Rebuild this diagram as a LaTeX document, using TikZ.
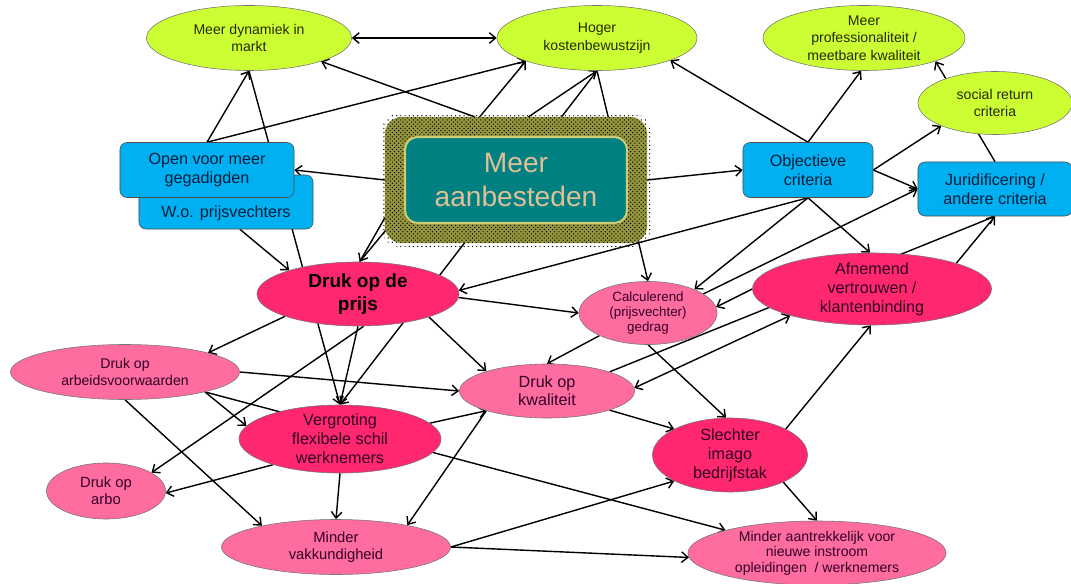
\documentclass[tikz,border=0pt]{standalone}
\usepackage{fontspec}
\setmainfont{Liberation Sans}
\usepackage{xcolor}
\usepackage{tikz}
\usetikzlibrary{positioning, arrows.meta, calc, shapes.geometric, patterns}

\definecolor{limefill}{RGB}{204,255,51}
\definecolor{skyfill}{RGB}{0,176,240}
\definecolor{tealfill}{RGB}{0,128,128}
\definecolor{tantext}{RGB}{222,192,150}
\definecolor{hotfill}{RGB}{255,40,110}
\definecolor{softfill}{RGB}{255,108,160}
\definecolor{glowfill}{RGB}{150,150,60}
\definecolor{glowedge}{RGB}{205,205,120}
\definecolor{pinktext}{RGB}{50,0,40}
\definecolor{bluetext}{RGB}{0,30,60}
\definecolor{limetext}{RGB}{40,40,0}

\pgfdeclarelayer{edges}
\pgfdeclarelayer{glow}
\pgfsetlayers{edges,glow,main}

\tikzset{
  goal/.style={ellipse, draw=black!55, fill=limefill, text=limetext, align=center, inner xsep=0pt, inner ysep=-3pt, font=\fontsize{10}{12.3}\selectfont},
  bluebox/.style={rectangle, rounded corners=5pt, draw=black!70, fill=skyfill, text=bluetext, align=center, inner sep=0pt, font=\fontsize{11.5}{13.5}\selectfont},
  hotnode/.style={ellipse, draw=black!55, fill=hotfill, text=pinktext, align=center, inner xsep=0pt, inner ysep=-3pt, font=\fontsize{11.5}{13.5}\selectfont},
  softnode/.style={ellipse, draw=black!55, fill=softfill, text=pinktext, align=center, inner xsep=0pt, inner ysep=-3pt, font=\fontsize{10}{12}\selectfont},
  link/.style={-{Straight Barb[length=4.5pt,width=7.5pt]}, line width=1pt},
  twolink/.style={{Straight Barb[length=4.5pt,width=7.5pt]}-{Straight Barb[length=4.5pt,width=7.5pt]}, line width=1pt}
}

\begin{document}
\begin{tikzpicture}[x=0.025cm, y=-0.025cm]
\useasboundingbox (0,0) rectangle (1071,584);

\node (dyn) [goal, minimum width=5.125cm, minimum height=1.625cm] at (249,38) {Meer dynamiek in\\markt};
\node (kost) [goal, minimum width=5cm, minimum height=1.625cm] at (597,38) {Hoger\\kostenbewustzijn};
\node (prof) [goal, minimum width=5.05cm, minimum height=1.625cm] at (864,38) {Meer\\professionaliteit /\\meetbare kwaliteit};
\node (social) [goal, minimum width=3.85cm, minimum height=1.575cm] at (995,103) {social return\\criteria};

\node (wo) [bluebox, minimum width=4.35cm, minimum height=1.35cm] at (226,202) {};
\node (wotext) [text=bluetext, font=\fontsize{11.5}{13.5}\selectfont] at (226,213) {W.o. prijsvechters};
\node (open) [bluebox, minimum width=4.35cm, minimum height=1.375cm] at (207,170) {Open voor meer\\gegadigden};
\node (obj) [bluebox, minimum width=3.25cm, minimum height=1.375cm] at (808,170) {Objectieve\\criteria};
\node (jur) [bluebox, minimum width=3.85cm, minimum height=1.35cm] at (995,189) {Juridificering /\\andere criteria};

\node (meer) [rectangle, rounded corners=9pt, draw=glowedge, line width=1.5pt, fill=tealfill, text=tantext, align=center, minimum width=5.55cm, minimum height=2.15cm, outer sep=0.5cm, font=\fontsize{20}{24}\selectfont] at (516,180) {Meer\\aanbesteden};

\node (prijs) [hotnode, minimum width=5.05cm, minimum height=1.6cm, text=black, font=\fontsize{13.5}{16.5}\selectfont\bfseries] at (358,294) {Druk op de\\prijs};
\node (calc) [softnode, minimum width=3.45cm, minimum height=1.575cm, font=\fontsize{9.5}{10.8}\selectfont] at (648,313) {Calculerend\\(prijsvechter)\\gedrag};
\node (afn) [hotnode, minimum width=5.975cm, minimum height=1.8cm] at (872,289) {Afnemend\\vertrouwen /\\klantenbinding};
\node (arb) [softnode, minimum width=5.725cm, minimum height=1.375cm] at (125,372) {Druk op\\arbeidsvoorwaarden};
\node (kwal) [softnode, minimum width=4.375cm, minimum height=1.35cm, font=\fontsize{11.5}{13}\selectfont] at (547,391) {Druk op\\kwaliteit};
\node (flex) [hotnode, minimum width=5.05cm, minimum height=1.7cm] at (340,439) {Vergroting\\flexibele schil\\werknemers};
\node (imago) [hotnode, minimum width=3.875cm, minimum height=1.85cm] at (730,455) {Slechter\\imago\\bedrijfstak};
\node (arbo) [softnode, minimum width=2.975cm, minimum height=1.4cm, font=\fontsize{10.5}{12}\selectfont] at (106,491) {Druk op\\arbo};
\node (vak) [softnode, minimum width=5.725cm, minimum height=1.375cm, font=\fontsize{10.5}{12.5}\selectfont] at (336,547) {Minder\\vakkundigheid};
\node (aantr) [softnode, minimum width=6.45cm, minimum height=1.6cm, font=\fontsize{10}{11}\selectfont] at (817,553) {Minder aantrekkelijk voor\\nieuwe instroom\\opleidingen~~/ werknemers};

\begin{pgfonlayer}{glow}
\fill[pattern=dots, pattern color=black, rounded corners=14pt] ($(meer.north west)+(-4,-4)$) rectangle ($(meer.south east)+(4,4)$);
\fill[glowfill, rounded corners=12pt] (meer.north west) rectangle (meer.south east);
\fill[pattern=crosshatch dots, pattern color=black, rounded corners=12pt] (meer.north west) rectangle (meer.south east);
\end{pgfonlayer}

\begin{pgfonlayer}{edges}
\draw[twolink] (dyn.east) -- (kost.west);
\draw[link] (meer.123) -- (dyn.-18);
\draw[link] (open.north) -- (dyn.south);
\draw[link] (dyn.south) -- (flex.north);
\draw[link] (meer.west) -- (open.east);
\draw[link] (open.north) -- (kost.198);
\draw[link] (prijs.87) -- (kost.198);
\draw[link] (meer.196) -- (prijs.87);
\draw[link] (meer.79) -- (kost.south);
\draw[link] (kost.south) -- (flex.north);
\draw[link] (kost.south) -- (calc.north);
\draw[link] (obj.north) -- (kost.-17);
\draw[link] (meer.east) -- (obj.west);
\draw[link] (obj.north) -- (prof.-95);
\draw[link] (obj.east) -- (social.203);
\draw[link] (obj.east) -- (jur.west);
\draw[link] (jur.north) -- (prof.-18);
\draw[link] (obj.south) -- (afn.93);
\draw[link] (obj.south) -- (calc.27);
\draw[link] (obj.south) -- (prijs.2);
\draw[link] (calc.19) -- (jur.west);
\draw[link] (prijs.-2) -- (calc.west);
\draw[link] (afn.west) -- (calc.5);
\draw[link] (calc.205) -- (kwal.north);
\draw[link] (calc.south) -- (imago.96);
\draw[link] (prijs.-18) -- (kwal.162);
\draw[link] (arb.east) -- (kwal.west);
\draw[link] (flex.10) -- (kwal.198);
\draw[link] (kwal.198) -- (vak.17);
\draw[link] (kwal.-17) -- (imago.155);
\draw[link] (arb.-14) -- (aantr.166);
\draw[link] (vak.east) -- (imago.205);
\draw[link] (vak.east) -- (aantr.182);
\draw[link] (imago.25) -- (afn.-92);
\draw[link] (imago.-27) -- (aantr.north);
\draw[link] (afn.17) -- (jur.south);
\draw[link] (kwal.17) -- (jur.south);
\draw[twolink] (kwal.2) -- (afn.198);
\draw[link] (prijs.south) -- (flex.north);
\draw[link] (prijs.197) -- (arb.13);
\draw[link] (prijs.-80) -- (arbo.22);
\draw[link] (arb.-14) -- (flex.172);
\draw[link] (arb.south) -- (vak.164);
\draw[link] (flex.201) -- (arbo.-2);
\draw[link] (flex.south) -- (vak.north);
\draw[link] (wo.-63) -- (prijs.161);
\end{pgfonlayer}
\end{tikzpicture}
\end{document}
